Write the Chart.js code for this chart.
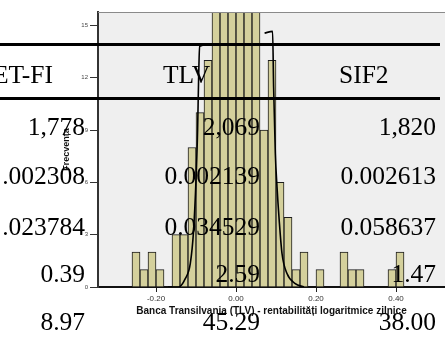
<!DOCTYPE html>
<html>
<head>
<meta charset="utf-8">
<script src="https://cdn.jsdelivr.net/npm/chart.js@4.4.0/dist/chart.umd.min.js"></script>
<style>
  html, body { margin: 0; padding: 0; background: #fff; }
  canvas { display: block; }
</style>
</head>
<body>
<canvas id="hist" width="445" height="337"></canvas>
<script>
/* ---------- data ---------- */
const binCenters = [-0.25, -0.23, -0.21, -0.19, -0.17, -0.15, -0.13, -0.11, -0.09, -0.07,
  -0.05, -0.03, -0.01, 0.01, 0.03, 0.05, 0.07, 0.09, 0.11, 0.13,
  0.15, 0.17, 0.19, 0.21, 0.23, 0.25, 0.27, 0.29, 0.31, 0.33,
  0.35, 0.37, 0.39, 0.41]
const binCounts = [2, 1, 2, 1, 0, 3, 3, 8, 10, 13,
  22, 30, 36, 34, 27, 19, 9, 13, 6, 4,
  1, 2, 0, 1, 0, 0, 2, 1, 1, 0,
  0, 0, 1, 2]

const curveX = [-0.17, -0.1435, -0.1268, -0.1143, -0.106, -0.1, -0.096, -0.0935, -0.091, -0.0725,
  0, 0.0715, 0.0915, 0.094, 0.0983, 0.1025, 0.108, 0.115, 0.1275, 0.148, 0.17]
const curveY = [0, 0, 0.48, 1.34, 3.26, 6.13, 9.0, 11.9, 13.8, 13.9,
  null, 14.56, 14.66, 11.5, 7.67, 5.75, 3.83, 1.92, 0.77, 0.2, 0]

const xTicks = [-0.2, 0, 0.2, 0.4]

const tableHead = ['ET-FI', 'TLV', 'SIF2']
const tableRows = [
  ['1,778', '2,069', '1,820'],
  ['.002308', '0.002139', '0.002613'],
  ['.023784', '0.034529', '0.058637'],
  ['0.39', '2.59', '1.47'],
  ['8.97', '45.29', '38.00']
]

/* ---------- plugins ---------- */
const plotBackground = {
  id: 'plotBackground',
  beforeDraw(chart) {
    const {ctx, chartArea: a} = chart
    ctx.save()
    ctx.fillStyle = '#efefef'
    ctx.fillRect(a.left, a.top, a.right - a.left, a.bottom - a.top)
    ctx.restore()
  },
  // tall bars stop at the top edge of the plot
  afterDatasetsDraw(chart) {
    const {ctx, chartArea: a} = chart
    ctx.save()
    ctx.fillStyle = '#fff'
    ctx.fillRect(a.left + 1, 0, chart.width - a.left, a.top)
    ctx.strokeStyle = '#8a8a8a'
    ctx.lineWidth = 1
    ctx.beginPath()
    ctx.moveTo(a.left, a.top + 0.5)
    ctx.lineTo(a.right, a.top + 0.5)
    ctx.stroke()
    ctx.restore()
  }
}

const statsTable = {
  id: 'statsTable',
  afterDraw(chart) {
    const ctx = chart.ctx
    ctx.save()
    ctx.fillStyle = '#000'
    ctx.strokeStyle = '#000'
    ctx.lineWidth = 3
    ctx.beginPath()
    ctx.moveTo(0, 44.5); ctx.lineTo(440, 44.5)
    ctx.moveTo(0, 98.5); ctx.lineTo(440, 98.5)
    ctx.stroke()

    ctx.font = '25.5px "Liberation Serif"'
    ctx.textBaseline = 'alphabetic'
    ctx.textAlign = 'right'
    ctx.fillText(tableHead[0], 53, 82.5)
    ctx.textAlign = 'left'
    ctx.fillText(tableHead[1], 163, 82.5)
    ctx.fillText(tableHead[2], 339, 82.5)

    const colRight = [85, 260, 436]
    const rowBase = [135, 183.5, 235, 281.5, 330]
    ctx.textAlign = 'right'
    tableRows.forEach((row, r) => {
      row.forEach((txt, c) => ctx.fillText(txt, colRight[c], rowBase[r]))
    })
    ctx.restore()
  }
}

/* ---------- chart ---------- */
const histCanvas = document.querySelector('#hist').getContext('2d')

const histData = {
  datasets: [{
    type: 'line',
    data: curveX.map((x, i) => ({x: x, y: curveY[i]})),
    borderColor: '#000',
    borderWidth: 1.6,
    pointRadius: 0,
    cubicInterpolationMode: 'monotone',
    spanGaps: false,
    order: 0
  }, {
    type: 'bar',
    data: binCenters.map((x, i) => ({x: x, y: binCounts[i]})),
    backgroundColor: '#d4d09c',
    borderColor: '#1c1c1c',
    borderWidth: 1,
    barPercentage: 1,
    categoryPercentage: 1,
    clip: 0,
    order: 1
  }]
}

const histOptions = {
  type: 'bar',
  data: histData,
  plugins: [plotBackground, statsTable],
  options: {
    responsive: false,
    animation: false,
    layout: { padding: { top: 12, left: 0, right: 0, bottom: 0 } },
    plugins: {
      legend: { display: false },
      tooltip: { enabled: false }
    },
    scales: {
      x: {
        type: 'linear',
        offset: false,
        min: -0.345,
        max: 0.5225,
        afterBuildTicks: scale => { scale.ticks = xTicks.map(v => ({value: v})) },
        afterFit: scale => { scale.height = 50 },
        ticks: {
          callback: v => v.toFixed(2),
          font: { size: 8 },
          color: '#333',
          padding: 2,
          maxRotation: 0
        },
        grid: { drawOnChartArea: false, tickLength: 5, color: '#222', offset: false },
        border: { color: '#111', width: 2 },
        title: {
          display: true,
          text: 'Banca Transilvania (TLV) - rentabilități logaritmice zilnice',
          font: { size: 10, weight: 'bold' },
          color: '#111',
          padding: { top: 0, bottom: 20 }
        }
      },
      y: {
        min: 0,
        max: 15.77,
        afterFit: scale => { scale.width = 98 },
        ticks: {
          stepSize: 3,
          includeBounds: false,
          font: { size: 6 },
          color: '#444',
          padding: 2
        },
        grid: { drawOnChartArea: false, tickLength: 8, color: '#333' },
        border: { color: '#333', width: 2 },
        title: {
          display: true,
          text: 'Frecvența',
          font: { size: 9, weight: 'bold' },
          color: '#111',
          padding: { top: 61, bottom: 0 }
        }
      }
    }
  }
}

Chart.defaults.font.family = '"Liberation Sans", Arial, sans-serif'
const histChart = new Chart(histCanvas, histOptions)
</script>
</body>
</html>
